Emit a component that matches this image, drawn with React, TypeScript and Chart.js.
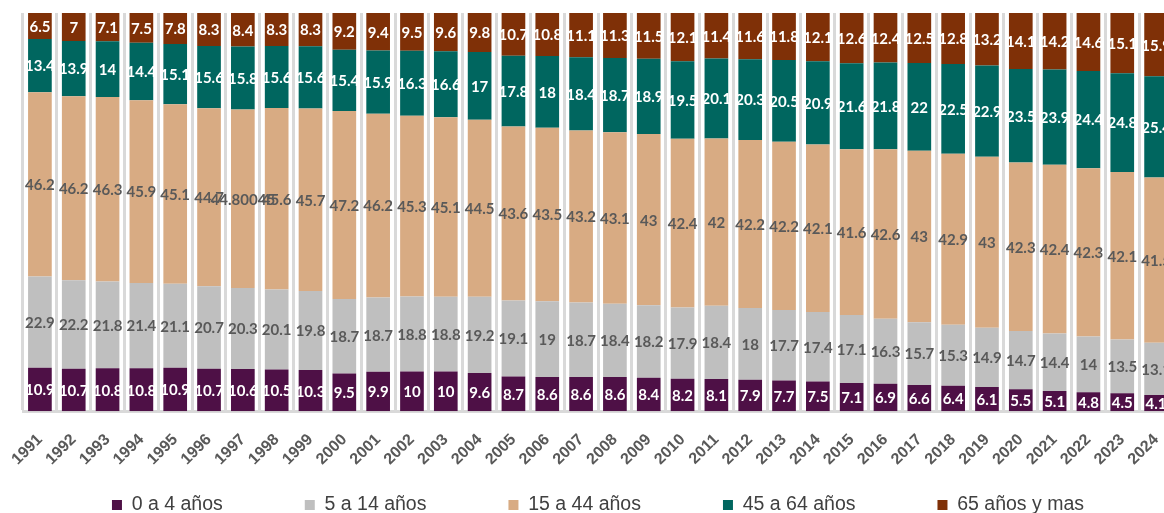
import React, { useEffect, useRef } from "react";
import { Chart, registerables } from "chart.js";

Chart.register(...registerables);

const years = [
  "1991", "1992", "1993", "1994", "1995", "1996", "1997", "1998", "1999", "2000",
  "2001", "2002", "2003", "2004", "2005", "2006", "2007", "2008", "2009", "2010",
  "2011", "2012", "2013", "2014", "2015", "2016", "2017", "2018", "2019", "2020",
  "2021", "2022", "2023", "2024",
];

const age0to4 = [
  10.9, 10.7, 10.8, 10.8, 10.9, 10.7, 10.6, 10.5, 10.3, 9.5,
  9.9, 10, 10, 9.6, 8.7, 8.6, 8.6, 8.6, 8.4, 8.2,
  8.1, 7.9, 7.7, 7.5, 7.1, 6.9, 6.6, 6.4, 6.1, 5.5,
  5.1, 4.8, 4.5, 4.1,
];

const age5to14 = [
  22.9, 22.2, 21.8, 21.4, 21.1, 20.7, 20.3, 20.1, 19.8, 18.7,
  18.7, 18.8, 18.8, 19.2, 19.1, 19, 18.7, 18.4, 18.2, 17.9,
  18.4, 18, 17.7, 17.4, 17.1, 16.3, 15.7, 15.3, 14.9, 14.7,
  14.4, 14, 13.5, 13.1,
];

const age15to44 = [
  46.2, 46.2, 46.3, 45.9, 45.1, 44.7, 44.80045, 45.6, 45.7, 47.2,
  46.2, 45.3, 45.1, 44.5, 43.6, 43.5, 43.2, 43.1, 43, 42.4,
  42, 42.2, 42.2, 42.1, 41.6, 42.6, 43, 42.9, 43, 42.3,
  42.4, 42.3, 42.1, 41.5,
];

const age45to64 = [
  13.4, 13.9, 14, 14.4, 15.1, 15.6, 15.8, 15.6, 15.6, 15.4,
  15.9, 16.3, 16.6, 17, 17.8, 18, 18.4, 18.7, 18.9, 19.5,
  20.1, 20.3, 20.5, 20.9, 21.6, 21.8, 22, 22.5, 22.9, 23.5,
  23.9, 24.4, 24.8, 25.4,
];

const age65plus = [
  6.5, 7, 7.1, 7.5, 7.8, 8.3, 8.4, 8.3, 8.3, 9.2,
  9.4, 9.5, 9.6, 9.8, 10.7, 10.8, 11.1, 11.3, 11.5, 12.1,
  11.4, 11.6, 11.8, 12.1, 12.6, 12.4, 12.5, 12.8, 13.2, 14.1,
  14.2, 14.6, 15.1, 15.9,
];

const seriesNames = ["0 a 4 años", "5 a 14 años", "15 a 44 años", "45 a 64 años", "65 años y mas"];
const seriesColors = ["#4e1046", "#bfbfbf", "#d8ab83", "#00665f", "#7f3007"];
const valueColors = ["#ffffff", "#595959", "#595959", "#ffffff", "#ffffff"];

const rawSeries = [age0to4, age5to14, age15to44, age45to64, age65plus];

const LEGEND_TEXT_Y = 505;
const LEGEND_FONT = 19.5;

const valueLabelPlugin = {
  id: "valueLabels",
  afterDatasetsDraw(chart: any) {
    const ctx = chart.ctx;
    ctx.save();
    ctx.font = "bold 15px Lato";
    ctx.textAlign = "center";
    ctx.textBaseline = "middle";
    chart.data.datasets.forEach((_ds: any, di: number) => {
      const meta = chart.getDatasetMeta(di);
      meta.data.forEach((el: any, i: number) => {
        const p = el.getProps(["x", "y", "base"], true);
        ctx.fillStyle = valueColors[di];
        ctx.fillText(String(rawSeries[di][i]), p.x, (p.y + p.base) / 2 + 1);
      });
    });
    ctx.restore();
  },
};

const legendShiftPlugin = {
  id: "legendShift",
  afterLayout(chart: any) {
    const lg = chart.legend;
    if (!lg) return;
    const pad = lg.options.labels.padding;
    lg.top = LEGEND_TEXT_Y - pad - LEGEND_FONT / 2;
  },
};

export default function App() {
  const canvasRef = useRef<HTMLCanvasElement | null>(null);

  useEffect(() => {
    const canvas = canvasRef.current;
    if (!canvas) return;
    const totals = years.map((_, i) => rawSeries.reduce((s, arr) => s + arr[i], 0));
    const chart = new Chart(canvas, {
      type: "bar",
      data: {
        labels: years,
        datasets: rawSeries.map((arr, di) => ({
          label: seriesNames[di],
          data: arr.map((v, i) => (v / totals[i]) * 100),
          backgroundColor: seriesColors[di],
          borderWidth: 0,
          barPercentage: 0.7,
          categoryPercentage: 1.0,
        })),
      },
      options: {
        responsive: false,
        animation: false,
        events: [],
        layout: { padding: { left: 23, right: 21, top: 13, bottom: 0 } },
        scales: {
          x: {
            stacked: true,
            afterFit: (axis: any) => {
              axis.paddingLeft = 0;
              axis.paddingRight = 0;
            },
            grid: { display: true, offset: true, color: "#d9d9d9", lineWidth: 3, drawTicks: false },
            border: { display: true, color: "#d9d9d9", width: 3 },
            ticks: {
              autoSkip: false,
              maxRotation: 45,
              minRotation: 45,
              padding: 19,
              color: "#595959",
              font: { family: "'Liberation Sans', Arial, sans-serif", size: 16, weight: "bold" },
            },
          },
          y: { stacked: true, display: false, min: 0, max: 100 },
        },
        plugins: {
          legend: {
            position: "bottom",
            maxHeight: 25,
            labels: {
              boxWidth: 10,
              boxHeight: 10,
              padding: 82,
              color: "#404040",
              font: { family: "'Liberation Sans', Arial, sans-serif", size: LEGEND_FONT },
            },
          },
          tooltip: { enabled: false },
        },
      } as any,
      plugins: [valueLabelPlugin, legendShiftPlugin],
    });
    return () => chart.destroy();
  }, []);

  return (
    <div style={{ position: "fixed", left: 0, top: 0, width: 1164, height: 513, overflow: "hidden", background: "#ffffff" }}>
      <canvas ref={canvasRef} width={1194} height={513} style={{ width: 1194, height: 513, display: "block" }} />
    </div>
  );
}
